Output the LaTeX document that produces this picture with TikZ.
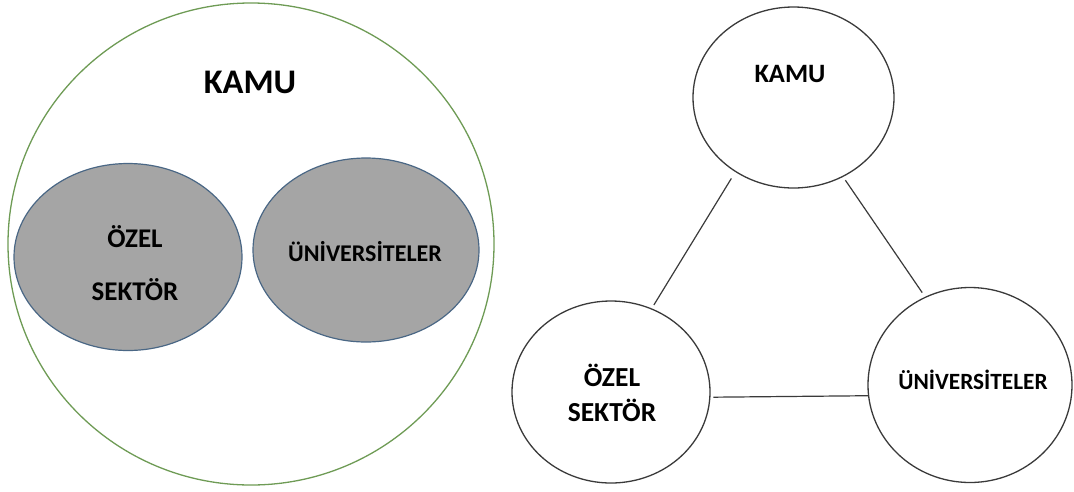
\documentclass[tikz,border=0pt]{standalone}
\usepackage{fontspec}
\setmainfont{Carlito}
\usetikzlibrary{shapes.geometric}
\definecolor{kgreen}{HTML}{6E9B55}
\definecolor{kblue}{HTML}{4A6785}
\definecolor{kfill}{HTML}{A5A5A5}
\definecolor{kline}{HTML}{3A3A3A}
\tikzset{
  bigc/.style={ellipse, draw=kgreen, line width=1.3pt, inner sep=0pt},
  grayell/.style={ellipse, draw=kblue, fill=kfill, line width=1.2pt, inner sep=0pt},
  whitec/.style={ellipse, draw=kline, line width=1.3pt, inner sep=0pt},
  lbl/.style={font=\bfseries, text=black, inner sep=0pt, anchor=center},
  conn/.style={draw=kline, line width=1.2pt}
}
\begin{document}
\begin{tikzpicture}[x=1pt,y=-1pt]
\useasboundingbox (0,0) rectangle (1074,491);
% left diagram
\node[bigc, minimum width=486pt, minimum height=482pt] (big) at (251,244) {};
\node[lbl, font=\fontsize{34.5}{34}\selectfont\bfseries] (kamuL) at (250,82) {KAMU};
\node[grayell, minimum width=228pt, minimum height=187pt] (ozelE) at (128,257) {};
\node[grayell, minimum width=226pt, minimum height=184pt] (uniE) at (366,250) {};
\node[lbl, font=\fontsize{27}{27}\selectfont\bfseries] (ozelL1) at (135,237) {ÖZEL};
\node[lbl, font=\fontsize{27}{27}\selectfont\bfseries] (ozelL2) at (135,290) {SEKTÖR};
\node[lbl, font=\fontsize{24}{24}\selectfont\bfseries] (uniL) at (365,252) {ÜNİVERSİTELER};
% right diagram
\node[whitec, minimum width=201pt, minimum height=181pt] (kamu) at (793.5,97.5) {};
\node[whitec, minimum width=198pt, minimum height=182pt] (ozel) at (611,392) {};
\node[whitec, minimum width=204pt, minimum height=195pt] (uni) at (970,385) {};
\node[lbl, font=\fontsize{26.5}{26}\selectfont\bfseries] (kamuT) at (790,74) {KAMU};
\node[lbl, font=\fontsize{27.5}{27}\selectfont\bfseries] (ozelT1) at (612,375) {ÖZEL};
\node[lbl, font=\fontsize{27.5}{27}\selectfont\bfseries] (ozelT2) at (612,410) {SEKTÖR};
\node[lbl, font=\fontsize{23.3}{23}\selectfont\bfseries] (uniT) at (973,380) {ÜNİVERSİTELER};
\draw[conn, shorten <=7.5pt, shorten >=4pt] (kamu.232.6) -- (ozel.64.2);
\draw[conn, shorten <=4pt, shorten >=5pt] (kamu.302) -- (uni.117);
\draw[conn, shorten <=3pt] (ozel.-3.4) -- (uni.186.7);
\end{tikzpicture}
\end{document}
